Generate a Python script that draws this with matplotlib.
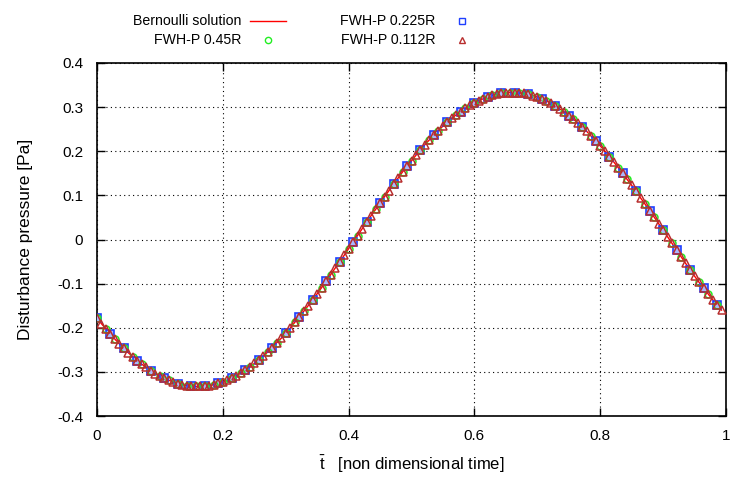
import numpy as np
import matplotlib
matplotlib.use("Agg")
import matplotlib.pyplot as plt
from matplotlib.lines import Line2D

plt.rcParams['font.family'] = ['Liberation Sans', 'DejaVu Sans']
plt.rcParams['mathtext.fontset'] = 'custom'
plt.rcParams['mathtext.rm'] = 'Liberation Sans'
plt.rcParams['mathtext.it'] = 'Liberation Sans'

pressure = [
    -0.178, -0.191, -0.203, -0.215, -0.226, -0.237, -0.247, -0.257, -0.266, -0.275,
    -0.283, -0.290, -0.297, -0.304, -0.310, -0.315, -0.319, -0.323, -0.327, -0.329,
    -0.331, -0.332, -0.333, -0.333, -0.332, -0.331, -0.329, -0.326, -0.323, -0.319,
    -0.314, -0.309, -0.303, -0.296, -0.289, -0.281, -0.273, -0.264, -0.255, -0.245,
    -0.234, -0.224, -0.212, -0.201, -0.188, -0.176, -0.163, -0.150, -0.136, -0.123,
    -0.109, -0.094, -0.080, -0.065, -0.051, -0.036, -0.021, -0.006, 0.009, 0.024,
    0.039, 0.054, 0.068, 0.083, 0.097, 0.111, 0.125, 0.139, 0.153, 0.166,
    0.178, 0.191, 0.203, 0.215, 0.226, 0.237, 0.247, 0.257, 0.266, 0.275,
    0.283, 0.290, 0.297, 0.304, 0.310, 0.315, 0.319, 0.323, 0.327, 0.329,
    0.331, 0.332, 0.333, 0.333, 0.332, 0.331, 0.329, 0.326, 0.323, 0.319,
    0.314, 0.309, 0.303, 0.296, 0.289, 0.281, 0.273, 0.264, 0.255, 0.245,
    0.234, 0.224, 0.212, 0.201, 0.188, 0.176, 0.163, 0.150, 0.136, 0.123,
    0.109, 0.094, 0.080, 0.065, 0.051, 0.036, 0.021, 0.006, -0.009, -0.024,
    -0.039, -0.054, -0.068, -0.083, -0.097, -0.110, -0.123, -0.136, -0.148, -0.160,
]
time = np.arange(len(pressure)) / 140.0

xticks = [0, 0.2, 0.4, 0.6, 0.8, 1]
xticklabels = ["0", "0.2", "0.4", "0.6", "0.8", "1"]
yticks = [0.4, 0.3, 0.2, 0.1, 0, -0.1, -0.2, -0.3, -0.4]
yticklabels = ["0.4", "0.3", "0.2", "0.1", "0", "-0.1", "-0.2", "-0.3", "-0.4"]

fig = plt.figure(figsize=(7.30, 4.78), dpi=100)
ax = fig.add_axes([97 / 730, 1 - 416 / 478, 629 / 730, 353 / 478])

p = np.array(pressure)
line_c = "#ff0000"
sq_c = "#1f3fff"
ci_c = "#22ee22"
tr_c = "#b82e2e"

ax.plot(time, p, color=line_c, lw=1.0, zorder=2)
ax.plot(time[::3], p[::3], ls="none", marker="s", ms=5.5, mfc="#aab8ff",
        mec=sq_c, mew=1.2, zorder=3)
ax.plot(time[::2], p[::2], ls="none", marker="o", ms=5, mfc="none",
        mec=ci_c, mew=1.1, zorder=3)
ax.plot(time, p, ls="none", marker="^", ms=5.5, mfc="none",
        mec=tr_c, mew=1.1, zorder=4)

ax.set_xlim(0, 1)
ax.set_ylim(-0.4, 0.4)
ax.set_xticks(xticks)
ax.set_xticklabels(xticklabels)
ax.set_yticks(yticks)
ax.set_yticklabels(yticklabels)
ax.tick_params(direction="in", length=6, width=1, top=True, right=True,
               labelsize=11, colors="black")
ax.tick_params(axis="y", pad=10)
ax.tick_params(axis="x", pad=9)
ax.grid(True, color="black", ls=(0, (1, 3)), lw=0.8)
for s in ax.spines.values():
    s.set_linewidth(1.2)

ax.set_ylabel("Disturbance pressure [Pa]", fontsize=12.5, labelpad=17)
ax.set_xlabel(r"$\bar{\mathrm{t}}$   [non dimensional time]", fontsize=12,
              labelpad=8)

# legend drawn gnuplot style: right-aligned text, sample after it
leg_labels = ["Bernoulli solution", "FWH-P 0.45R", "FWH-P 0.225R", "FWH-P 0.112R"]
leg_pos = [(241, 21), (241, 40), (435, 21), (435, 40)]
for lab, (xp, yp) in zip(leg_labels, leg_pos):
    fig.text(xp / 730, 1 - yp / 478, lab, ha="right", va="center", fontsize=10.2)

fig.add_artist(Line2D([250 / 730, 286 / 730], [1 - 21 / 478] * 2,
                      color=line_c, lw=1.0))
fig.add_artist(Line2D([268 / 730], [1 - 40 / 478], ls="none", marker="o",
                      ms=4.5, mfc="none", mec=ci_c, mew=1.0))
fig.add_artist(Line2D([462 / 730], [1 - 21 / 478], ls="none", marker="s",
                      ms=5, mfc="none", mec=sq_c, mew=1.0))
fig.add_artist(Line2D([462 / 730], [1 - 40 / 478], ls="none", marker="^",
                      ms=5, mfc="none", mec=tr_c, mew=1.0))

fig.savefig("out.png", dpi=100)
